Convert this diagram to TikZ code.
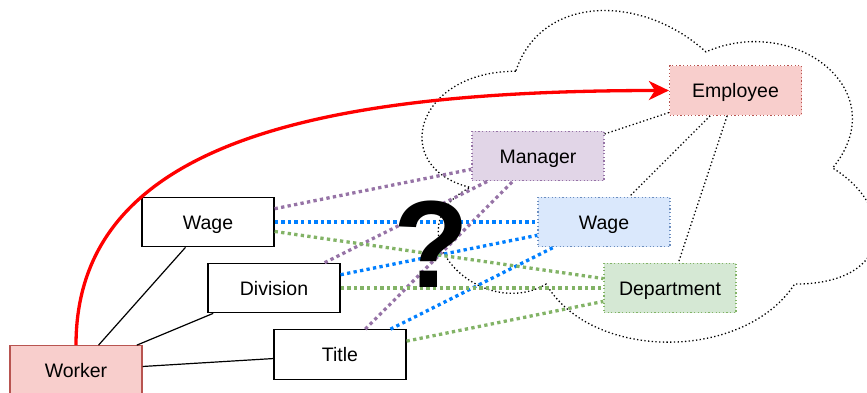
\documentclass[tikz,border=0pt]{standalone}
\usepackage{fontspec}
\setmainfont{Liberation Sans}
\usetikzlibrary{arrows.meta}
\definecolor{empfill}{HTML}{F8CECC}
\definecolor{empline}{HTML}{B85450}
\definecolor{mgrfill}{HTML}{E1D5E7}
\definecolor{mgrline}{HTML}{9673A6}
\definecolor{wagefill}{HTML}{DAE8FC}
\definecolor{wageline}{HTML}{6C8EBF}
\definecolor{wagelink}{HTML}{007FFF}
\definecolor{depfill}{HTML}{D5E8D4}
\definecolor{depline}{HTML}{82B366}
\begin{document}
\begin{tikzpicture}[
  x=1pt, y=-1pt,
  font=\fontsize{19.5}{23}\selectfont,
  box/.style={draw, line width=1.2pt, fill=white, minimum width=132pt, minimum height=49.5pt, inner sep=0pt, text height=14pt, text depth=0pt},
  tbox/.style={box, dash pattern=on 1.2pt off 2.4pt},
  link/.style={draw, line width=1.2pt},
  thin dots/.style={draw, line width=1.3pt, dash pattern=on 1.3pt off 2.4pt},
  thick dots/.style={draw, line width=3.3pt, dash pattern=on 3.3pt off 3.3pt}]
\useasboundingbox (0,0) rectangle (867,392);
\begin{scope}
\clip (0,0) rectangle (867,392);
% ---------------- cloud of the target schema ----------------
\begin{scope}[shift={(389,-25.5)}, x=507pt, y=-387pt]
\draw[thin dots] (0.25,0.25) .. controls (0.05,0.25) and (0,0.5) .. (0.16,0.55)
  .. controls (0,0.66) and (0.18,0.9) .. (0.31,0.8)
  .. controls (0.4,1) and (0.7,1) .. (0.8,0.8)
  .. controls (1,0.8) and (1,0.6) .. (0.875,0.5)
  .. controls (1,0.3) and (0.8,0.1) .. (0.625,0.2)
  .. controls (0.5,0.05) and (0.3,0.05) .. (0.25,0.25) -- cycle;
\end{scope}
% ---------------- source schema ----------------
\node[box, draw=empline, fill=empfill] (wk) at (76,370.5) {Worker};
\node[box] (wageL) at (208,222) {Wage};
\node[box] (div) at (274,288) {Division};
\node[box] (title) at (340,354.5) {Title};
% ---------------- target schema ----------------
\node[tbox, draw=empline, fill=empfill] (emp) at (735.5,90.5) {Employee};
\node[tbox, draw=mgrline, fill=mgrfill] (mgr) at (538,156) {Manager};
\node[tbox, draw=wageline, fill=wagefill] (wageR) at (604,222) {Wage};
\node[tbox, draw=depline, fill=depfill] (dep) at (670,288) {Department};
% connectors
\foreach \s in {wageL,div,title} { \draw[link] (wk) -- (\s); }
\foreach \t in {mgr,wageR,dep} { \draw[thin dots] (emp) -- (\t); }
\foreach \s in {wageL,div,title} { \draw[thick dots, mgrline] (\s) -- (mgr); }
\foreach \s in {wageL,div,title} { \draw[thick dots, wagelink] (\s) -- (wageR); }
\foreach \s in {wageL,div,title} { \draw[thick dots, depline] (\s) -- (dep); }
\draw[red, line width=3.3pt, -{Stealth[length=20pt, width=19pt, inset=6pt]}]
  (wk.north) .. controls +(0,-196) and +(-369,0) .. (emp.west);
\node[font=\fontsize{124}{124}\selectfont\bfseries, inner sep=0pt, anchor=base] (qm) at (431,287) {?};
\end{scope}
\end{tikzpicture}
\end{document}
